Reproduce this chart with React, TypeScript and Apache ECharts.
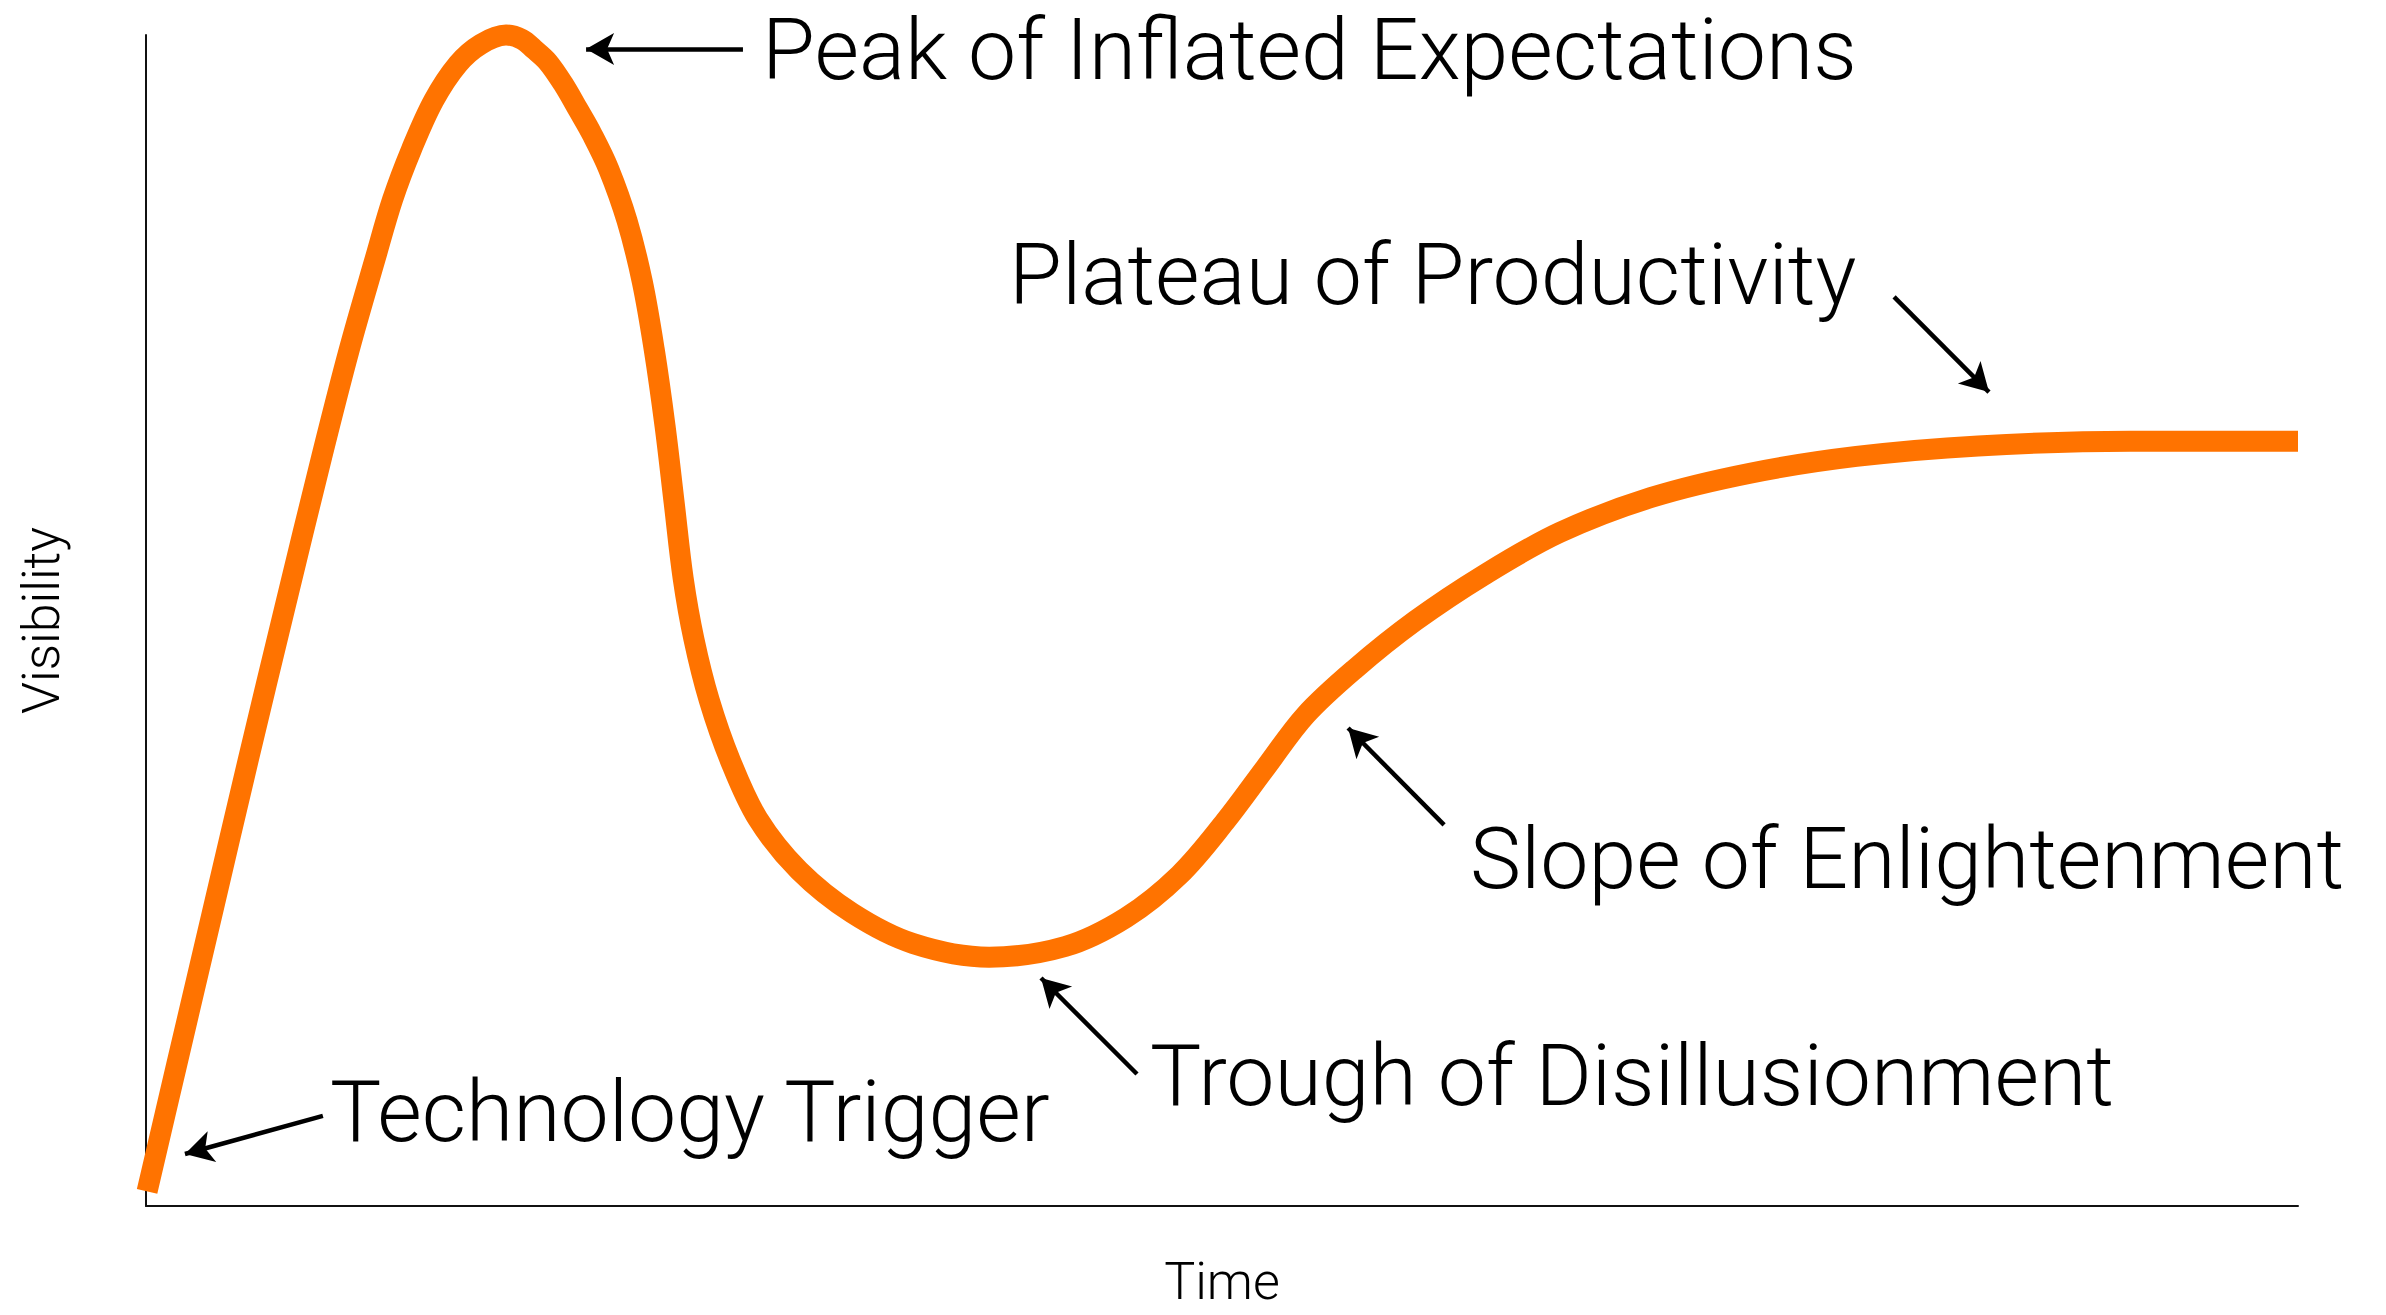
import React, { useEffect, useRef } from 'react';
import * as echarts from 'echarts';

// Hype cycle curve (Time 0-100, Visibility 0-100)
const timeValues = [
  0.05, 1.42, 3.08, 4.74, 6.44, 8.17, 9.44, 10.65, 11.46, 12.34, 13.37, 14.5, 15.56, 16.73,
  17.47, 18.03, 18.67, 19.38, 20.08, 20.72, 21.5, 22.35, 23.06, 23.62, 24.12, 24.54, 24.96,
  25.46, 26.17, 27.16, 28.43, 30.34, 32.81, 35.64, 39.18, 42.71, 45.54, 48.02, 50.14,
  52.05, 53.88, 56.15, 58.98, 62.16, 65.69, 69.93, 74.54, 79.48, 85.14, 92.21, 100.0,
];
const visibilityValues = [
  1.24, 12.02, 25.02, 38.01, 51.01, 64.01, 73.1, 80.9, 85.96, 90.25, 94.41, 97.53, 99.22, 100.0,
  99.63, 98.79, 97.7, 95.84, 93.63, 91.55, 88.56, 84.15, 78.95, 73.1, 66.6, 60.1, 53.61,
  48.41, 43.21, 38.01, 33.07, 28.66, 25.02, 22.42, 21.25, 22.16, 24.63, 28.27, 32.82,
  37.5, 41.91, 45.82, 49.97, 53.87, 57.51, 60.5, 62.58, 64.01, 64.91, 65.3, 65.3,
];

// Phase annotations
const phaseLabels = [
  'Technology Trigger',
  'Peak of Inflated Expectations',
  'Trough of Disillusionment',
  'Slope of Enlightenment',
  'Plateau of Productivity',
];
// arrow tail / head in data units (Time, Visibility)
const arrowTailTime = [8.22, 27.74, 46.05, 60.32, 81.23];
const arrowTailVis = [7.69, 98.8, 11.27, 32.54, 77.63];
const arrowHeadTime = [1.81, 20.45, 41.59, 55.86, 85.64];
const arrowHeadVis = [4.44, 98.8, 19.47, 40.82, 69.51];

// layout of label texts (left x, baseline y) in pixels
const LABEL_LAYOUT = [
  [330, 1141],
  [762, 79],
  [1150, 1105],
  [1470, 888],
  [1009, 304],
];

const FONT = 'Roboto, "Liberation Sans", sans-serif';

export default function App() {
  const ref = useRef<HTMLDivElement>(null);

  useEffect(() => {
    if (!ref.current) return;
    const chart = echarts.init(ref.current, null, { renderer: 'svg' });
    const curve = timeValues.map((t, i) => [t, visibilityValues[i]]);
    const arrows = phaseLabels.map((_, i) => [
      { coord: [arrowTailTime[i], arrowTailVis[i]] },
      { coord: [arrowHeadTime[i], arrowHeadVis[i]] },
    ]);
    chart.setOption({
      animation: false,
      backgroundColor: '#ffffff',
      grid: {
        left: 146,
        right: 88,
        top: 35,
        bottom: 109,
        containLabel: false,
        outerBoundsMode: 'none',
      },
      xAxis: {
        type: 'value',
        min: 0,
        max: 100,
        name: 'Time',
        nameLocation: 'middle',
        nameGap: 57,
        nameTextStyle: {
          fontFamily: FONT,
          fontWeight: 300,
          fontSize: 52,
          lineHeight: 36,
          color: '#000',
        },
        axisLine: { show: true, lineStyle: { color: '#111', width: 2 } },
        axisTick: { show: false },
        axisLabel: { show: false },
        splitLine: { show: false },
      },
      yAxis: {
        type: 'value',
        min: 0,
        max: 100,
        name: 'Visibility',
        nameLocation: 'middle',
        nameGap: 79,
        nameTextStyle: { fontFamily: FONT, fontWeight: 300, fontSize: 52, color: '#000' },
        axisLine: { show: true, lineStyle: { color: '#111', width: 2 } },
        axisTick: { show: false },
        axisLabel: { show: false },
        splitLine: { show: false },
      },
      series: [
        {
          type: 'line',
          data: curve,
          smooth: 0.35,
          showSymbol: false,
          symbol: 'none',
          clip: false,
          lineStyle: { color: '#ff7300', width: 21, cap: 'butt', join: 'round' },
          markLine: {
            silent: true,
            symbol: ['none', 'arrow'],
            symbolSize: [24, 28],
            label: { show: false },
            lineStyle: { color: '#000', width: 4.5, type: 'solid' },
            emphasis: { disabled: true },
            data: arrows,
          },
        },
      ],
      graphic: phaseLabels.map((txt, i) => ({
        type: 'text',
        x: LABEL_LAYOUT[i][0],
        y: LABEL_LAYOUT[i][1] - 30,
        silent: true,
        style: {
          text: txt,
          fontFamily: FONT,
          fontWeight: 300,
          fontSize: 86,
          fill: '#000',
          align: 'left',
          verticalAlign: 'middle',
        },
      })),
    });
    return () => chart.dispose();
  }, []);

  return (
    <div
      ref={ref}
      style={{ position: 'fixed', left: 0, top: 0, width: 2386, height: 1315, background: '#fff' }}
    />
  );
}
